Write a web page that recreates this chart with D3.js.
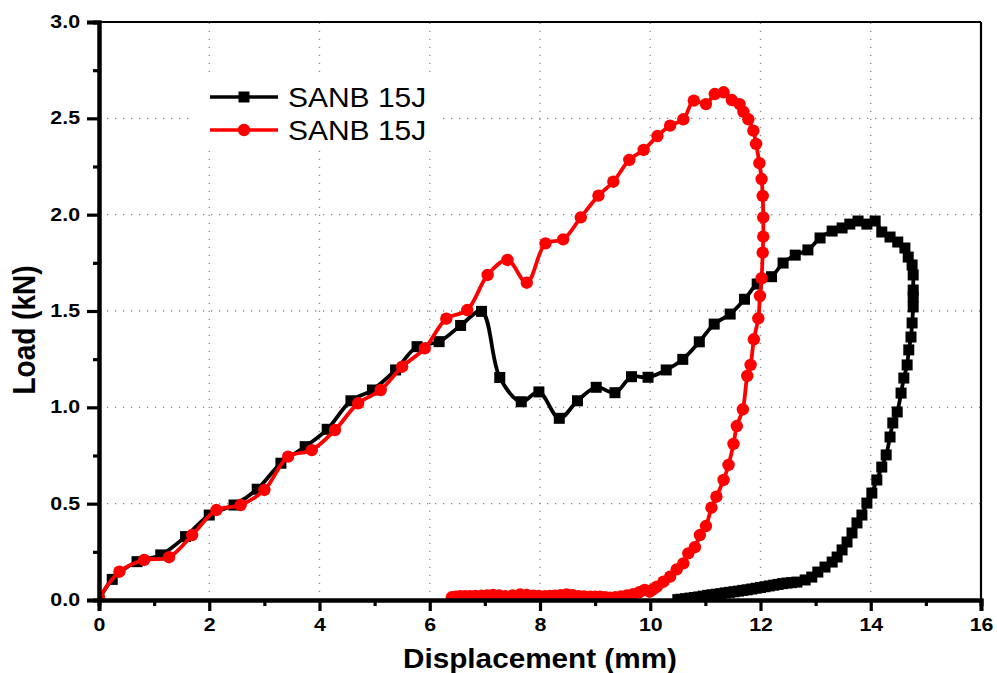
<!DOCTYPE html>
<html>
<head>
<meta charset="utf-8">
<script src="https://cdn.jsdelivr.net/npm/d3@7"></script>
<style>
  body { margin: 0; background: #fff; }
  text { font-family: "Liberation Sans", Arial, sans-serif; }
</style>
</head>
<body>
<script>
// series names (both are labelled the same in the original)
var seriesNames = ["SANB 15J", "SANB 15J"];

// black series: displacement (mm) / load (kN)
var blackX = [0, 0.24, 0.69, 1.12, 1.57, 2.0, 2.45, 2.87, 3.30, 3.74, 4.14, 4.57, 4.96, 5.38, 5.77, 6.17, 6.56, 6.94,
  7.27, 7.66, 7.98, 8.35, 8.68, 9.02, 9.36, 9.66, 9.96, 10.29, 10.59, 10.89, 11.16, 11.45, 11.71, 11.94, 12.20,
  12.41, 12.63, 12.86, 13.08, 13.30, 13.48, 13.62, 13.77, 13.93, 14.08, 14.20, 14.35, 14.49, 14.62, 14.68, 14.75,
  14.77, 14.77, 14.77, 14.77, 14.75, 14.73, 14.69, 14.66, 14.60, 14.55, 14.48, 14.40, 14.35, 14.28, 14.20, 14.11,
  14.02, 13.93, 13.84, 13.75, 13.66, 13.57, 13.48, 13.39, 13.30, 13.17, 13.04, 12.93, 12.81, 12.66, 12.56, 12.48,
  12.40, 12.32, 12.24, 12.16, 12.08, 12.00, 11.92, 11.84, 11.76, 11.68, 11.60, 11.52, 11.44, 11.36, 11.28, 11.20,
  11.12, 11.04, 10.96, 10.88, 10.80, 10.72, 10.64, 10.56, 10.50];
var blackY = [0, 0.107, 0.199, 0.234, 0.329, 0.441, 0.493, 0.575, 0.71, 0.796, 0.886, 1.034, 1.09, 1.194, 1.315, 1.341, 1.425, 1.498,
  1.155, 1.029, 1.08, 0.943, 1.034, 1.104, 1.076, 1.159, 1.156, 1.194, 1.249, 1.34, 1.432, 1.484, 1.561, 1.64, 1.678,
  1.749, 1.79, 1.817, 1.879, 1.915, 1.931, 1.951, 1.967, 1.951, 1.967, 1.910, 1.884, 1.858, 1.827, 1.780, 1.739,
  1.687, 1.609, 1.573, 1.521, 1.438, 1.365, 1.298, 1.220, 1.152, 1.074, 0.976, 0.919, 0.846, 0.753, 0.690, 0.623,
  0.555, 0.503, 0.441, 0.400, 0.348, 0.301, 0.260, 0.223, 0.197, 0.171, 0.145, 0.119, 0.104, 0.093, 0.090, 0.088,
  0.085, 0.081, 0.077, 0.073, 0.069, 0.065, 0.061, 0.057, 0.053, 0.050, 0.046, 0.043, 0.040, 0.037, 0.033, 0.030,
  0.027, 0.024, 0.020, 0.016, 0.013, 0.010, 0.007, 0.004, 0.002];

// red series
var redX = [0, 0.37, 0.82, 1.27, 1.69, 2.13, 2.57, 3.0, 3.43, 3.86, 4.28, 4.70, 5.11, 5.50, 5.91, 6.30, 6.68, 7.05,
  7.41, 7.76, 8.10, 8.42, 8.74, 9.06, 9.33, 9.62, 9.88, 10.13, 10.36, 10.60, 10.79, 11.01, 11.17, 11.33, 11.48,
  11.62, 11.69, 11.78, 11.87, 11.92, 11.98, 12.02, 12.04, 12.05, 12.05, 12.04, 12.02, 11.99, 11.96, 11.88, 11.82,
  11.76, 11.68, 11.57, 11.51, 11.42, 11.33, 11.20, 11.11, 11.01, 10.90, 10.81, 10.69, 10.60, 10.48, 10.36, 10.24,
  10.12, 10.05, 9.99, 9.90, 9.80, 9.69, 9.58, 9.47, 9.37, 9.27, 9.18, 9.09, 9.00, 8.91, 8.80, 8.70, 8.59, 8.48,
  8.37, 8.27, 8.18, 8.09, 7.98, 7.88, 7.76, 7.64, 7.50, 7.37, 7.26, 7.15, 7.04, 6.94, 6.83, 6.73, 6.64, 6.55, 6.47, 6.40];
var redY = [0.01, 0.147, 0.208, 0.222, 0.337, 0.467, 0.493, 0.571, 0.744, 0.778, 0.882, 1.021, 1.09, 1.211, 1.306, 1.46, 1.505, 1.687,
  1.765, 1.647, 1.851, 1.872, 1.986, 2.099, 2.171, 2.284, 2.336, 2.408, 2.462, 2.495, 2.592, 2.574, 2.626, 2.635, 2.595,
  2.574, 2.534, 2.495, 2.436, 2.367, 2.267, 2.185, 2.097, 1.986, 1.886, 1.803, 1.670, 1.578, 1.462, 1.353, 1.220,
  1.163, 0.990, 0.903, 0.810, 0.701, 0.623, 0.536, 0.479, 0.384, 0.337, 0.274, 0.242, 0.190, 0.159, 0.121, 0.095,
  0.069, 0.055, 0.043, 0.052, 0.040, 0.030, 0.024, 0.018, 0.014, 0.012, 0.015, 0.017, 0.017, 0.017, 0.019, 0.020, 0.025, 0.029,
  0.025, 0.022, 0.021, 0.020, 0.021, 0.022, 0.026, 0.029, 0.024, 0.020, 0.023, 0.026, 0.024, 0.022, 0.021, 0.020, 0.020, 0.020, 0.017, 0.014];

var xMajor = [0, 2, 4, 6, 8, 10, 12, 14, 16];
var xMinor = [1, 3, 5, 7, 9, 11, 13, 15];
var yMajor = [0, 0.5, 1.0, 1.5, 2.0, 2.5, 3.0];
var yMinor = [0.25, 0.75, 1.25, 1.75, 2.25, 2.75];

var W = 997, H = 673;
var margin = {top: 22, right: 16, bottom: 73, left: 99};
var width = W - margin.left - margin.right,
    height = H - margin.top - margin.bottom;

var svg = d3.select("body").append("svg")
    .attr("width", W)
    .attr("height", H);

var x = d3.scaleLinear().domain([0, 16]).range([margin.left, margin.left + width]);
var y = d3.scaleLinear().domain([0, 3]).range([margin.top + height, margin.top]);

// stretch text horizontally like the original picture
function stretch(sel, k) {
  sel.each(function() {
    var len = this.getComputedTextLength();
    d3.select(this).attr("textLength", len * k).attr("lengthAdjust", "spacingAndGlyphs");
  });
}

// dotted grid
var grid = svg.append("g").attr("stroke", "#8a8a8a").attr("stroke-width", 1.3).attr("stroke-dasharray", "1.3 6.7");
grid.selectAll(".gx").data(xMajor.slice(1, -1)).enter().append("line")
    .attr("x1", function(d) { return x(d); }).attr("x2", function(d) { return x(d); })
    .attr("y1", y(0)).attr("y2", y(3));
grid.selectAll(".gy").data(yMajor.slice(1, -1)).enter().append("line")
    .attr("x1", x(0)).attr("x2", x(16))
    .attr("y1", function(d) { return y(d); }).attr("y2", function(d) { return y(d); });

// clip to plot area
svg.append("clipPath").attr("id", "clip").append("rect")
    .attr("x", x(0)).attr("y", y(3)).attr("width", width).attr("height", height);

var plot = svg.append("g").attr("clip-path", "url(#clip)");

var line = d3.line()
    .x(function(d) { return x(d[0]); })
    .y(function(d) { return y(d[1]); })
    .curve(d3.curveCatmullRom.alpha(0.5));

var blackData = blackX.map(function(v, i) { return [v, blackY[i]]; });
var redData = redX.map(function(v, i) { return [v, redY[i]]; });

plot.append("path").datum(blackData)
    .attr("d", line).attr("fill", "none").attr("stroke", "#000").attr("stroke-width", 3.8);
plot.selectAll(".sq").data(blackData).enter().append("rect")
    .attr("x", function(d) { return x(d[0]) - 5.5; })
    .attr("y", function(d) { return y(d[1]) - 5.5; })
    .attr("width", 11).attr("height", 11).attr("fill", "#000");

plot.append("path").datum(redData)
    .attr("d", line).attr("fill", "none").attr("stroke", "#ff0000").attr("stroke-width", 3.8);
plot.selectAll(".ci").data(redData).enter().append("circle")
    .attr("cx", function(d) { return x(d[0]); })
    .attr("cy", function(d) { return y(d[1]); })
    .attr("r", 6.2).attr("fill", "#ff0000");

// frame top / right
svg.append("line").attr("x1", x(0)).attr("x2", x(16)).attr("y1", y(3)).attr("y2", y(3))
    .attr("stroke", "#000").attr("stroke-width", 2.2);
svg.append("line").attr("x1", x(16)).attr("x2", x(16)).attr("y1", y(3)).attr("y2", y(0))
    .attr("stroke", "#000").attr("stroke-width", 2.2);

// axes
var gxMinor = svg.append("g").attr("transform", "translate(0," + y(0) + ")")
    .call(d3.axisBottom(x).tickValues(xMinor).tickSize(6).tickFormat(""));
var gx = svg.append("g").attr("transform", "translate(0," + y(0) + ")")
    .call(d3.axisBottom(x).tickValues(xMajor).tickSize(11).tickPadding(8).tickFormat(d3.format("d")));
var gyMinor = svg.append("g").attr("transform", "translate(" + x(0) + ",0)")
    .call(d3.axisLeft(y).tickValues(yMinor).tickSize(6).tickFormat(""));
var gy = svg.append("g").attr("transform", "translate(" + x(0) + ",0)")
    .call(d3.axisLeft(y).tickValues(yMajor).tickSize(12).tickPadding(7).tickFormat(d3.format(".1f")));

[gxMinor, gx, gyMinor, gy].forEach(function(g) {
  g.select(".domain").attr("stroke-width", 4).attr("stroke", "#000");
  g.selectAll(".tick line").attr("stroke-width", 3.2).attr("stroke", "#000");
});
[gx, gy].forEach(function(g) {
  g.selectAll(".tick text")
    .attr("font-family", "Liberation Sans, Arial, sans-serif")
    .attr("font-size", 17.5).attr("font-weight", "bold").attr("fill", "#000")
    .call(stretch, 1.22);
});

// axis titles
svg.append("text")
    .attr("x", (x(0) + x(16)) / 2).attr("y", 668)
    .attr("text-anchor", "middle")
    .attr("font-size", 27).attr("font-weight", "bold")
    .text("Displacement (mm)")
    .call(stretch, 1.1);

svg.append("text")
    .attr("transform", "translate(35,330) rotate(-90) scale(1,1.1)")
    .attr("text-anchor", "middle")
    .attr("font-size", 28).attr("font-weight", "bold")
    .text("Load (kN)");

// legend
var legend = svg.append("g");
legend.append("rect").attr("x", 195).attr("y", 76).attr("width", 245).attr("height", 70).attr("fill", "#fff");
var rows = [{y: 97, color: "#000", shape: "square"}, {y: 130, color: "#ff0000", shape: "circle"}];
rows.forEach(function(r, i) {
  legend.append("line").attr("x1", 210).attr("x2", 278).attr("y1", r.y).attr("y2", r.y)
      .attr("stroke", r.color).attr("stroke-width", 3.5);
  if (r.shape == "square") {
    legend.append("rect").attr("x", 244 - 5.5).attr("y", r.y - 5.5).attr("width", 11).attr("height", 11).attr("fill", r.color);
  } else {
    legend.append("circle").attr("cx", 244).attr("cy", r.y).attr("r", 6.2).attr("fill", r.color);
  }
  legend.append("text").attr("x", 288).attr("y", r.y + 10)
      .attr("font-size", 27).attr("fill", "#000")
      .text(seriesNames[i])
      .call(stretch, 1.11);
});
</script>
</body>
</html>
